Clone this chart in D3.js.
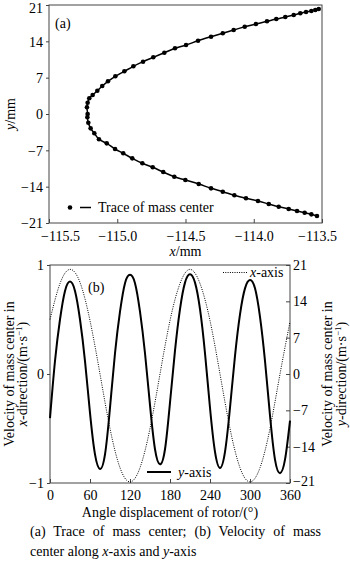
<!DOCTYPE html>
<html><head><meta charset="utf-8">
<script src="https://cdn.jsdelivr.net/npm/d3@7/dist/d3.min.js"></script>
<style>
body{margin:0;background:#fff}
svg{display:block}
text{font-family:"Liberation Serif","Times New Roman",serif;fill:#000;font-size:14px}
</style>
</head><body><svg id="c" width="350" height="561"></svg>
<script>
// ---------- Panel (a): trace of mass center ----------
const traceX = [-113.537,-113.578,-113.627,-113.683,-113.744,-113.817,-113.890,-113.969,-114.057,-114.142,
  -114.227,-114.313,-114.403,-114.501,-114.582,-114.663,-114.740,-114.816,-114.890,-114.956,
  -115.016,-115.077,-115.134,-115.168,-115.195,-115.212,-115.219,
  -115.217,
  -115.222,-115.217,-115.205,-115.180,-115.146,-115.110,-115.068,-115.014,-114.948,-114.882,
  -114.811,-114.736,-114.655,-114.577,-114.496,-114.408,-114.313,-114.227,-114.147,-114.066,
  -113.984,-113.903,-113.835,-113.769,-113.707,-113.659,-113.617,-113.578,-113.549,-113.524];
const traceY = [-19.65,-19.33,-19.02,-18.69,-18.30,-17.86,-17.34,-16.76,-16.24,-15.66,
  -14.97,-14.32,-13.49,-12.72,-12.08,-11.18,-10.27,-9.50,-8.54,-7.57,
  -6.74,-5.65,-4.87,-3.72,-2.76,-1.68,-0.64,
  0.00,
  1.29,2.18,3.02,3.66,4.49,5.39,6.30,7.26,8.23,9.19,
  10.08,10.92,11.81,12.66,13.29,14.12,14.89,15.55,16.18,16.82,
  17.34,17.86,18.30,18.69,19.08,19.40,19.65,19.85,20.04,20.23];
const traceXTicks = [-115.5,-115.0,-114.5,-114.0,-113.5];
const traceYTicks = [-21,-14,-7,0,7,14,21];

// ---------- Panel (b): velocities ----------
const anglesX = [0,15,30,45,60,75,90,105,120,135,150,165,180,195,210,225,240,255,270,285,300,315,330,345,360];
const velX = [0.50,0.83,0.96,0.84,0.49,0.00,-0.50,-0.86,-0.99,-0.86,-0.50,0.00,0.49,0.83,0.96,0.83,0.49,0.00,-0.50,-0.86,-0.99,-0.86,-0.50,0.00,0.48];
const anglesY = [0,7.5,15,22.5,30,37.5,45,52.5,60,67.5,75,82.5,90,97.5,105,112.5,120,127.5,135,142.5,150,157.5,165,172.5,180,
  187.5,195,202.5,210,217.5,225,232.5,240,247.5,255,262.5,270,277.5,285,292.5,300,307.5,315,322.5,330,337.5,345,352.5,360];
const velY = [-8.5,2.5,10.5,16.0,17.8,16.0,10.5,2.5,-7.5,-15.5,-18.3,-15.5,-6.5,4.0,12.0,17.5,19.1,17.5,12.0,4.0,-6.0,-14.5,-17.4,-14.5,-5.5,
  4.5,12.5,17.6,19.2,17.6,12.5,4.0,-6.5,-15.0,-18.1,-15.0,-6.5,3.5,11.5,16.5,18.1,16.5,11.0,2.5,-8.0,-16.5,-19.1,-16.5,-9.0];
const angleTicks = [0,60,120,180,240,300,360];
const velXTicks = [-1,0,1];
const velYTicks = [-21,-14,-7,0,7,14,21];

const svg = d3.select("#c");
const axisColor = "#444";
const fmt1 = d3.format(".1f");
const fmtI = d3.format("d");

function styleAxis(g){
  g.select(".domain").remove();
  g.selectAll(".tick line").attr("stroke", axisColor);
  g.selectAll(".tick text").style("font-size","14px").attr("fill","#000")
    .style("font-family",'"Liberation Serif","Times New Roman",serif');
}

// ===== Panel (a) =====
const ax = d3.scaleLinear().domain([-115.5,-113.5]).range([49,322]);
const ay = d3.scaleLinear().domain([-21,21]).range([223,5]);

svg.append("rect").attr("x",ax.range()[0]).attr("y",ay.range()[1])
  .attr("width",ax.range()[1]-ax.range()[0]).attr("height",ay.range()[0]-ay.range()[1])
  .attr("fill","none").attr("stroke",axisColor).attr("stroke-width",1);

const gax = svg.append("g").attr("transform",`translate(0,${ay.range()[0]})`)
  .call(d3.axisBottom(ax).tickValues(traceXTicks).tickFormat(fmt1).tickSizeInner(-4).tickSizeOuter(0).tickPadding(8));
styleAxis(gax);
gax.selectAll(".tick text").attr("dx",(d,i)=> i===0 ? 11 : (i===traceXTicks.length-1 ? -5 : 0));

const gay = svg.append("g").attr("transform",`translate(${ax.range()[0]},0)`)
  .call(d3.axisLeft(ay).tickValues(traceYTicks).tickFormat(fmtI).tickSizeInner(3).tickSizeOuter(0).tickPadding(3));
styleAxis(gay);
gay.selectAll(".tick text").attr("dy",(d)=> d===21 ? "0.5em" : "0.35em");

const traceLine = d3.line().x((d,i)=>ax(traceX[i])).y((d,i)=>ay(traceY[i])).curve(d3.curveCatmullRom);
svg.append("path").datum(traceX).attr("d",traceLine).attr("fill","none").attr("stroke","#000").attr("stroke-width",1.5);
svg.append("g").selectAll("circle").data(traceX).join("circle")
  .attr("cx",(d,i)=>ax(traceX[i])).attr("cy",(d,i)=>ay(traceY[i])).attr("r",2.3).attr("fill","#000");

svg.append("text").attr("x",55).attr("y",28).text("(a)");

// legend (a)
svg.append("circle").attr("cx",70).attr("cy",207.5).attr("r",2.3).attr("fill","#000");
svg.append("line").attr("x1",80).attr("x2",91).attr("y1",207.5).attr("y2",207.5).attr("stroke","#000").attr("stroke-width",1.5);
svg.append("text").attr("x",98).attr("y",212).text("Trace of mass center");

// axis titles (a)
const xt = svg.append("text").attr("x",(ax.range()[0]+ax.range()[1])/2).attr("y",256).attr("text-anchor","middle");
xt.append("tspan").style("font-style","italic").text("x");
xt.append("tspan").text("/mm");
const yt = svg.append("text").attr("transform",`translate(15,${ay(0)}) rotate(-90)`).attr("text-anchor","middle");
yt.append("tspan").style("font-style","italic").text("y");
yt.append("tspan").text("/mm");

// ===== Panel (b) =====
const bx = d3.scaleLinear().domain([0,360]).range([50,290]);
const byL = d3.scaleLinear().domain([-1,1]).range([483,265]);
const byR = d3.scaleLinear().domain([-21,21]).range([483,265]);

svg.append("rect").attr("x",bx.range()[0]).attr("y",byL.range()[1])
  .attr("width",bx.range()[1]-bx.range()[0]).attr("height",byL.range()[0]-byL.range()[1])
  .attr("fill","none").attr("stroke",axisColor).attr("stroke-width",1);

const gbx = svg.append("g").attr("transform",`translate(0,${byL.range()[0]})`)
  .call(d3.axisBottom(bx).tickValues(angleTicks).tickFormat(fmtI).tickSizeInner(-4).tickSizeOuter(0).tickPadding(7));
styleAxis(gbx);

const gbl = svg.append("g").attr("transform",`translate(${bx.range()[0]},0)`)
  .call(d3.axisLeft(byL).tickValues(velXTicks).tickFormat(fmtI).tickSizeInner(3).tickSizeOuter(0).tickPadding(3));
styleAxis(gbl);

const gbr = svg.append("g").attr("transform",`translate(${bx.range()[1]},0)`)
  .call(d3.axisRight(byR).tickValues(velYTicks).tickFormat(fmtI).tickSizeInner(-4).tickSizeOuter(0).tickPadding(3));
styleAxis(gbr);
gbr.selectAll(".tick text").attr("dy",(d)=> d===-21 ? "0.15em" : "0.32em");

const lineX = d3.line().x((d,i)=>bx(anglesX[i])).y((d,i)=>byL(velX[i])).curve(d3.curveNatural);
svg.append("path").datum(velX).attr("d",lineX).attr("fill","none").attr("stroke","#000")
  .attr("stroke-width",1).attr("stroke-dasharray","1,1.3");
const lineY = d3.line().x((d,i)=>bx(anglesY[i])).y((d,i)=>byR(velY[i])).curve(d3.curveNatural);
svg.append("path").datum(velY).attr("d",lineY).attr("fill","none").attr("stroke","#000").attr("stroke-width",2);

svg.append("text").attr("x",88).attr("y",292).text("(b)");

// legend (b)
svg.append("line").attr("x1",223).attr("x2",247).attr("y1",272.5).attr("y2",272.5)
  .attr("stroke","#000").attr("stroke-width",1).attr("stroke-dasharray","1,1.3");
const lx = svg.append("text").attr("x",250).attr("y",277);
lx.append("tspan").style("font-style","italic").text("x");
lx.append("tspan").text("-axis");
svg.append("line").attr("x1",147).attr("x2",171).attr("y1",472).attr("y2",472).attr("stroke","#000").attr("stroke-width",2);
const ly = svg.append("text").attr("x",178).attr("y",477);
ly.append("tspan").style("font-style","italic").text("y");
ly.append("tspan").text("-axis");

// axis titles (b)
svg.append("text").attr("x",(bx.range()[0]+bx.range()[1])/2).attr("y",517).attr("text-anchor","middle")
  .text("Angle displacement of rotor/(°)");

const midB = (byL.range()[0]+byL.range()[1])/2;
function twoLineTitle(xc1, xc2, second, italicLetter){
  svg.append("text").attr("transform",`translate(${xc1},${midB}) rotate(-90)`).attr("text-anchor","middle")
    .text("Velocity of mass center in");
  const t = svg.append("text").attr("transform",`translate(${xc2},${midB}) rotate(-90)`).attr("text-anchor","middle");
  t.append("tspan").style("font-style","italic").text(italicLetter);
  t.append("tspan").text(second);
  t.append("tspan").text("(m·s");
  t.append("tspan").attr("dy",-5).style("font-size","9px").text("−1");
  t.append("tspan").attr("dy",5).text(")");
}
twoLineTitle(14, 27, "-direction/", "x");
twoLineTitle(332, 346, "-direction/", "y");

// caption
function justified(y, parts, x0, x1){
  const t = svg.append("text").attr("x",x0).attr("y",y);
  parts.forEach(p=>{ const s=t.append("tspan").text(p.t); if(p.i) s.style("font-style","italic"); });
  if(x1){
    const full = parts.map(p=>p.t).join("");
    const nSp = (full.match(/ /g)||[]).length;
    const len = t.node().getComputedTextLength();
    t.style("word-spacing", ((x1-x0-len)/nSp)+"px");
  }
}
justified(536, [{t:"(a) Trace of mass center; (b) Velocity of mass"}], 30, 321);
justified(556, [{t:"center along "},{t:"x",i:true},{t:"-axis and "},{t:"y",i:true},{t:"-axis"}], 30, null);
</script></body></html>
